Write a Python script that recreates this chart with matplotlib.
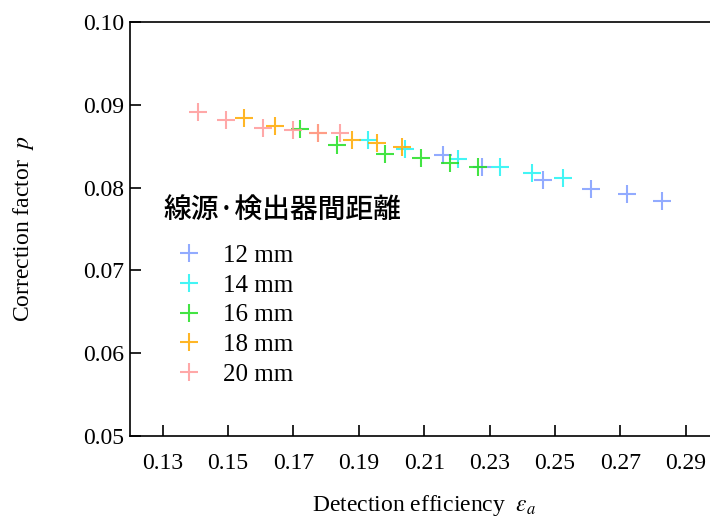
import matplotlib
matplotlib.use("Agg")
import matplotlib.pyplot as plt

# detection efficiency vs correction factor, per source-detector distance
labels = ["12 mm", "14 mm", "16 mm", "18 mm", "20 mm"]
colors = ["#7f9cff", "#22f4f4", "#22e022", "#ffaa00", "#ff9999"]

eff_12 = [0.2156, 0.2276, 0.2464, 0.2610, 0.2720, 0.2827]
p_12 = [0.0839, 0.0825, 0.0809, 0.0798, 0.0792, 0.0784]
eff_14 = [0.1928, 0.2042, 0.2203, 0.2332, 0.2430, 0.2525]
p_14 = [0.0857, 0.0847, 0.0834, 0.0825, 0.0818, 0.0812]
eff_16 = [0.1720, 0.1834, 0.1980, 0.2090, 0.2180, 0.2265]
p_16 = [0.0871, 0.0851, 0.0840, 0.0836, 0.0830, 0.0825]
eff_18 = [0.1550, 0.1644, 0.1776, 0.1880, 0.1956, 0.2032]
p_18 = [0.0884, 0.0874, 0.0866, 0.0857, 0.0854, 0.0849]
eff_20 = [0.1409, 0.1494, 0.1607, 0.1699, 0.1776, 0.1843]
p_20 = [0.0891, 0.0882, 0.0872, 0.0870, 0.0866, 0.0866]

series = [(eff_12, p_12), (eff_14, p_14), (eff_16, p_16),
          (eff_18, p_18), (eff_20, p_20)]
x_ticks = [0.13, 0.15, 0.17, 0.19, 0.21, 0.23, 0.25, 0.27, 0.29]
y_ticks = [0.05, 0.06, 0.07, 0.08, 0.09, 0.10]

plt.rcParams["font.family"] = ["Liberation Serif", "DejaVu Serif"]
plt.rcParams["mathtext.fontset"] = "stix"

fig = plt.figure(figsize=(7.1, 5.19), dpi=100)
ax = fig.add_axes([0.1831, 0.16, 0.829, 0.7976])

for (xs, ys), c, lbl in zip(series, colors, labels):
    ax.plot(xs, ys, linestyle="none", marker="+", markersize=12.5,
            markeredgewidth=1.5, color=c, alpha=0.85, label=lbl)

ax.set_xlim(0.12, 0.30)
ax.set_ylim(0.05, 0.10)
ax.set_xticks(x_ticks, [f"{v:.2f}" for v in x_ticks])
ax.set_yticks(y_ticks, [f"{v:.2f}" for v in y_ticks])
ax.tick_params(direction="in", length=8, width=1.2, labelsize=17)
ax.tick_params(axis="x", pad=12)
ax.tick_params(axis="y", pad=4)
for s in ax.spines.values():
    s.set_linewidth(1.2)

ax.set_xlabel(r"Detection efficiency  $\varepsilon_a$", fontsize=17, labelpad=14)
ax.set_ylabel(r"Correction factor  $p$", fontsize=17, labelpad=34)

ax.text(0.056, 0.546, "線源·検出器間距離", transform=ax.transAxes,
        family=["Noto Sans CJK JP", "DejaVu Sans"], fontsize=20,
        fontweight="medium", ha="left", va="center")
ax.legend(loc="upper left", bbox_to_anchor=(0.057, 0.493), frameon=False,
          fontsize=18, handlelength=1.0, handletextpad=0.86,
          labelspacing=0.29, borderpad=0)

fig.savefig("out.png", dpi=100)
